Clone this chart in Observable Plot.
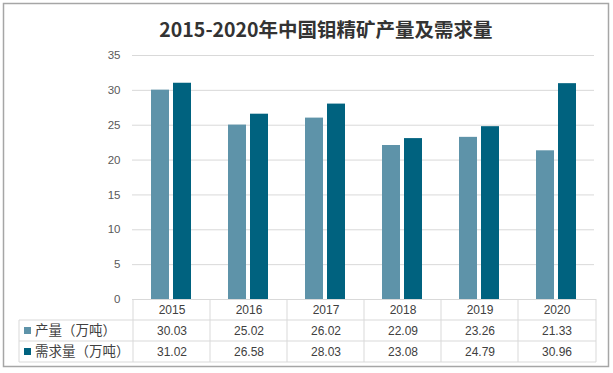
<!DOCTYPE html>
<html>
<head>
<meta charset="utf-8">
<script src="https://cdn.jsdelivr.net/npm/d3@7"></script>
<script src="https://cdn.jsdelivr.net/npm/@observablehq/plot@0.6"></script>
<style>
html,body{margin:0;padding:0;background:#fff;}
#chart svg{display:block;}
</style>
</head>
<body>
<div id="chart"></div>
<script>
const title = "2015-2020年中国钼精矿产量及需求量";
const years = ["2015", "2016", "2017", "2018", "2019", "2020"];
const seriesNames = ["产量（万吨）", "需求量（万吨）"];
const production = [30.03, 25.02, 26.02, 22.09, 23.26, 21.33];
const demand = [31.02, 26.58, 28.03, 23.08, 24.79, 30.96];
const yTicks = [0, 5, 10, 15, 20, 25, 30, 35];
const colors = ["#5E93A9", "#00627F"];

const prodData = years.map((y, i) => ({year: y, value: production[i]}));
const demData = years.map((y, i) => ({year: y, value: demand[i]}));

const W = 613, H = 373;
const mL = 132, mR = 17, mT = 55, mB = 74;
const fontNum = "'Liberation Sans', Arial, sans-serif";
const fontCJK = "'Noto Sans CJK SC', sans-serif";

const chart = Plot.plot({
  width: W,
  height: H,
  marginLeft: mL,
  marginRight: mR,
  marginTop: mT,
  marginBottom: mB,
  style: {fontFamily: fontNum, background: "#fff", overflow: "visible"},
  x: {domain: years, padding: 0, axis: null},
  y: {domain: [0, 35], ticks: yTicks, label: null},
  marks: [
    Plot.ruleY(yTicks.filter(d => d > 0), {stroke: "#D9D9D9", strokeWidth: 1, strokeOpacity: 1, insetRight: 2}),
    Plot.axisY({ticks: yTicks, tickSize: 0, tickPadding: 12, label: null, fill: "#595959", fontSize: 11.5, fontFamily: fontNum}),
    Plot.barY(prodData, {x: "year", y: "value", fill: colors[0], insetLeft: 18, insetRight: 41}),
    Plot.barY(demData, {x: "year", y: "value", fill: colors[1], insetLeft: 40, insetRight: 19}),
    Plot.ruleY([0], {stroke: "#D9D9D9", strokeWidth: 1, strokeOpacity: 1}),
    Plot.text(years, {x: d => d, y: () => 0, dy: 10.5, fill: "#404040", fontSize: 12, fontFamily: fontNum}),
    Plot.text(prodData, {x: "year", y: () => 0, dy: 31.5, text: d => d.value.toFixed(2), fill: "#404040", fontSize: 12, fontFamily: fontNum}),
    Plot.text(demData, {x: "year", y: () => 0, dy: 52.5, text: d => d.value.toFixed(2), fill: "#404040", fontSize: 12, fontFamily: fontNum})
  ]
});

const svg = d3.select(chart);
const xScale = Plot.scale({x: chart.scale("x")});
const xr = chart.scale("x").range;
const yScale = Plot.scale({y: chart.scale("y")});
const tableTop = yScale.apply(0);
const rowH = 21;
const tableLeft = 19;
const tableRight = xr[1];
const lineColor = "#D9D9D9";

const g = svg.append("g").attr("text-anchor", "start");
const bounds = years.map(y => xScale.apply(y)).concat([tableRight]);
bounds.forEach(bx => {
  g.append("line").attr("x1", bx).attr("x2", bx)
    .attr("y1", tableTop).attr("y2", tableTop + 3 * rowH)
    .attr("stroke", lineColor);
});
g.append("line").attr("x1", tableLeft).attr("x2", tableLeft)
  .attr("y1", tableTop + rowH).attr("y2", tableTop + 3 * rowH).attr("stroke", lineColor);
[1, 2, 3].forEach(k => {
  g.append("line").attr("x1", tableLeft).attr("x2", tableRight)
    .attr("y1", tableTop + k * rowH).attr("y2", tableTop + k * rowH).attr("stroke", lineColor);
});
seriesNames.forEach((name, i) => {
  const cy = tableTop + rowH * (i + 1) + rowH / 2;
  g.append("rect").attr("x", 24).attr("y", cy - 3.5).attr("width", 7).attr("height", 7).attr("fill", colors[i]);
  g.append("text").attr("x", 35).attr("y", cy).attr("dy", "0.36em").attr("text-anchor", "start")
    .attr("font-family", fontCJK).attr("font-size", 13.5).attr("fill", "#404040").text(name);
});
svg.append("text").attr("x", 326).attr("y", 30).attr("text-anchor", "middle").attr("dy", "0.36em")
  .attr("font-family", fontCJK).attr("font-weight", "bold").attr("font-size", 19.5).attr("fill", "#333").text(title);
svg.append("rect").attr("x", 3.5).attr("y", 3.5).attr("width", 605).attr("height", 363)
  .attr("fill", "none").attr("stroke", "#A6A6A6").attr("stroke-width", 1.5);

document.getElementById("chart").appendChild(chart);
</script>
</body>
</html>
